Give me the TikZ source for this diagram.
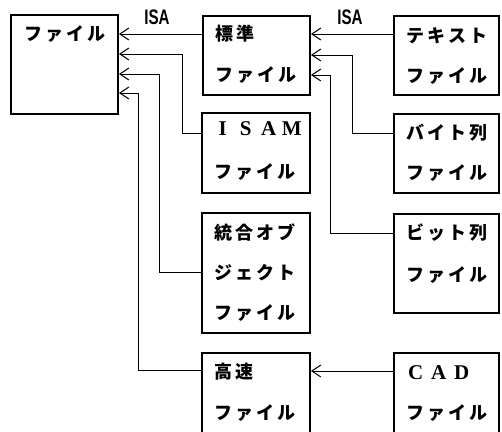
\documentclass[tikz,border=0pt]{standalone}
\usepackage{fontspec}
\usetikzlibrary{arrows.meta,fit}
\newfontfamily\jpfont{Noto Sans CJK JP}
\newfontfamily\lserif{Liberation Serif}
\newfontfamily\lsans{Liberation Sans}
\def\spc#1{\ifx\relax#1\else\makebox[21pt]{#1}\expandafter\spc\fi}
\def\spl#1{\ifx\relax#1\else\makebox[23pt]{#1}\expandafter\spl\fi}
\begin{document}
\begin{tikzpicture}[x=1pt,y=-1pt,
  box/.style={draw,line width=1.9pt,inner sep=0pt},
  jt/.style={font=\jpfont\bfseries\fontsize{18}{18}\selectfont,anchor=west,inner sep=0pt},
  lt/.style={font=\lserif\bfseries\fontsize{21}{21}\selectfont,anchor=west,inner sep=0pt},
  isa/.style={font=\lsans\bfseries\fontsize{21}{21}\selectfont,inner sep=0pt},
  conn/.style={line width=0.9pt},
  arr/.style={conn,-{Straight Barb[length=9pt,width=12pt,line width=1pt]}}]
\useasboundingbox (0,0) rectangle (502,431);
\clip (0,0) rectangle (502,431);
% boxes
\node[box,fit={(11,15) (118,114)}] (file) {};
\node[box,fit={(203,16) (310,95)}] (std) {};
\node[box,fit={(202,113) (310,193)}] (isam) {};
\node[box,fit={(202,213) (310,333)}] (tog) {};
\node[box,fit={(202,353) (310,450)}] (fast) {};
\node[box,fit={(394,16) (499,95)}] (text) {};
\node[box,fit={(394,114) (499,193)}] (byte) {};
\node[box,fit={(394,214) (499,313)}] (bit) {};
\node[box,fit={(394,353) (499,450)}] (cad) {};
% texts
\node[jt,anchor=center] (fileT) at (65,34) {\spc ファイル\relax};
\node[jt] (stdA) at (214,34) {\spc 標準\relax};
\node[jt] (stdB) at (214,75) {\spc ファイル\relax};
\node[lt] (isamA) at (211,129) {\spl ISAM\relax};
\node[jt] (isamB) at (213,172) {\spc ファイル\relax};
\node[jt] (togA) at (213,232) {\spc 統合オブ\relax};
\node[jt] (togB) at (213,273) {\spc ジェクト\relax};
\node[jt] (togC) at (213,313) {\spc ファイル\relax};
\node[jt] (fastA) at (213,372) {\spc 高速\relax};
\node[jt] (fastB) at (213,413) {\spc ファイル\relax};
\node[jt] (textA) at (405,36) {\spc テキスト\relax};
\node[jt] (textB) at (405,76) {\spc ファイル\relax};
\node[jt] (byteA) at (405,133) {\spc バイト列\relax};
\node[jt] (byteB) at (405,173) {\spc ファイル\relax};
\node[jt] (bitA) at (405,233) {\spc ビット列\relax};
\node[jt] (bitB) at (405,275) {\spc ファイル\relax};
\node[lt] (cadA) at (404,373) {\spl CAD\relax};
\node[jt] (cadB) at (405,413) {\spc ファイル\relax};
% ISA labels
\node[isa] (isa1) at (157,17) {\scalebox{0.72}[1]{ISA}};
\node[isa] (isa2) at (350,17) {\scalebox{0.72}[1]{ISA}};
% connectors to file
\draw[arr] (std.west |- 0,34) -- (file.east |- 0,34);
\draw[arr] (isam.west |- 0,133) -- (182,133) |- (file.east |- 0,54);
\draw[arr] (tog.west |- 0,272) -- (159,272) |- (file.east |- 0,74);
\draw[arr] (fast.west |- 0,370) -- (138,370) |- (file.east |- 0,93);
% connectors to std
\draw[arr] (text.west |- 0,34) -- (std.east |- 0,34);
\draw[arr] (byte.west |- 0,133) -- (352,133) |- (std.east |- 0,55);
\draw[arr] (bit.west |- 0,233) -- (330,233) |- (std.east |- 0,75);
\draw[arr] (cad.west |- 0,371) -- (fast.east |- 0,371);
\end{tikzpicture}
\end{document}
